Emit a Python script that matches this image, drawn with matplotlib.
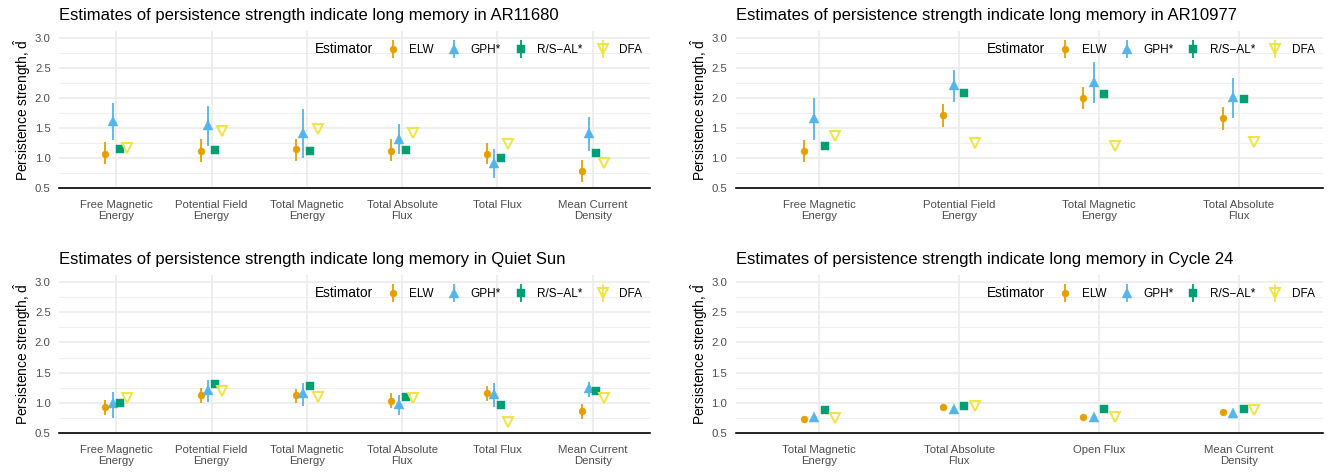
import numpy as np
import matplotlib.pyplot as plt
from matplotlib.lines import Line2D
from matplotlib.ticker import MultipleLocator

plt.rcParams['font.family'] = ['Liberation Sans', 'DejaVu Sans']
plt.rcParams['mathtext.fontset'] = 'custom'
plt.rcParams['mathtext.rm'] = 'Liberation Sans'
plt.rcParams['mathtext.it'] = 'Liberation Sans'

# Estimators, in plotting order (ELW, GPH*, R/S-AL*, DFA)
estimators = ['ELW', 'GPH*', 'R/S\u2212AL*', 'DFA']
est_colors = ['#E69F00', '#56B4E9', '#009E73', '#F0E442']

nan = np.nan

# --- AR11680 ---
ar11680_cats = ['Free Magnetic\nEnergy', 'Potential Field\nEnergy', 'Total Magnetic\nEnergy',
                'Total Absolute\nFlux', 'Total Flux', 'Mean Current\nDensity']
ar11680_est = [[1.08, 1.13, 1.15, 1.13, 1.08, 0.79],
               [1.63, 1.55, 1.43, 1.33, 0.92, 1.43],
               [1.15, 1.14, 1.12, 1.14, 1.00, 1.09],
               [1.17, 1.46, 1.49, 1.42, 1.24, 0.93]]
ar11680_lo = [[0.90, 0.94, 0.96, 0.95, 0.90, 0.61],
              [1.31, 1.21, 1.01, 1.07, 0.67, 1.13],
              [nan] * 6, [nan] * 6]
ar11680_hi = [[1.27, 1.32, 1.33, 1.32, 1.26, 0.97],
              [1.93, 1.87, 1.82, 1.58, 1.16, 1.69],
              [nan] * 6, [nan] * 6]

# --- AR10977 ---
ar10977_cats = ['Free Magnetic\nEnergy', 'Potential Field\nEnergy', 'Total Magnetic\nEnergy',
                'Total Absolute\nFlux']
ar10977_est = [[1.13, 1.72, 2.00, 1.67],
               [1.68, 2.22, 2.28, 2.03],
               [1.21, 2.09, 2.07, 1.99],
               [1.38, 1.26, 1.20, 1.27]]
ar10977_lo = [[0.94, 1.53, 1.82, 1.48],
              [1.31, 1.94, 1.93, 1.68],
              [nan] * 4, [nan] * 4]
ar10977_hi = [[1.31, 1.91, 2.19, 1.86],
              [2.01, 2.48, 2.61, 2.34],
              [nan] * 4, [nan] * 4]

# --- Quiet Sun ---
quiet_cats = ar11680_cats
quiet_est = [[0.92, 1.12, 1.12, 1.03, 1.16, 0.86],
             [0.99, 1.21, 1.16, 0.98, 1.15, 1.25],
             [1.00, 1.31, 1.28, 1.09, 0.96, 1.20],
             [1.08, 1.20, 1.10, 1.08, 0.67, 1.08]]
quiet_lo = [[0.79, 0.99, 0.99, 0.91, 1.03, 0.73],
            [0.74, 1.01, 0.94, 0.79, 0.93, 1.10],
            [nan] * 6, [nan] * 6]
quiet_hi = [[1.04, 1.24, 1.23, 1.16, 1.28, 0.98],
            [1.17, 1.37, 1.32, 1.12, 1.33, 1.35],
            [nan] * 6, [nan] * 6]

# --- Cycle 24 ---
cycle24_cats = ['Total Magnetic\nEnergy', 'Total Absolute\nFlux', 'Open Flux', 'Mean Current\nDensity']
cycle24_est = [[0.73, 0.92, 0.76, 0.84],
               [0.76, 0.89, 0.76, 0.83],
               [0.88, 0.95, 0.89, 0.89],
               [0.75, 0.94, 0.76, 0.88]]
cycle24_lo = [[nan] * 4] * 4
cycle24_hi = [[nan] * 4] * 4

panels = [
    ('AR11680', ar11680_cats, ar11680_est, ar11680_lo, ar11680_hi),
    ('AR10977', ar10977_cats, ar10977_est, ar10977_lo, ar10977_hi),
    ('Quiet Sun', quiet_cats, quiet_est, quiet_lo, quiet_hi),
    ('Cycle 24', cycle24_cats, cycle24_est, cycle24_lo, cycle24_hi),
]

W, H = 1332, 474
# panel boxes in pixels: left, top (value 3.125), right, bottom (value 0.5)
boxes = [(59, 30.8, 650, 188.3), (735.5, 30.8, 1322.5, 188.3),
         (59, 274.8, 650, 432.7), (735.5, 274.8, 1322.5, 432.7)]

offsets = [-0.1125, -0.0375, 0.0375, 0.1125]
markers = ['o', '^', 's', 'v']
msizes = [5.0, 6.6, 5.2, 7.2]


def marker_style(i):
    if markers[i] == 'v':
        return dict(marker='v', markersize=msizes[i], markerfacecolor='none',
                    markeredgecolor=est_colors[i], markeredgewidth=1.4)
    return dict(marker=markers[i], markersize=msizes[i], markerfacecolor=est_colors[i],
                markeredgecolor=est_colors[i], markeredgewidth=0.3)


fig = plt.figure(figsize=(W / 100, H / 100), dpi=100)

for (name, cats, est, lo, hi), (l, t, r, b) in zip(panels, boxes):
    ax = fig.add_axes([l / W, 1 - b / H, (r - l) / W, (b - t) / H])
    x = np.arange(len(cats))
    for i in range(4):
        xi = x + offsets[i]
        ax.vlines(xi, lo[i], hi[i], color=est_colors[i], lw=1.3, zorder=3)
        ax.plot(xi, est[i], linestyle='none', zorder=4, **marker_style(i))

    ax.set_xlim(-0.6, len(cats) - 0.4)
    ax.set_ylim(0.5, 3.125)
    ax.set_xticks(x)
    ax.set_xticklabels(cats, fontsize=8.2, color='#4D4D4D', linespacing=1.15)
    ax.yaxis.set_minor_locator(MultipleLocator(0.25))
    ax.set_yticks([0.5, 1.0, 1.5, 2.0, 2.5, 3.0])
    ax.set_yticklabels(['0.5', '1.0', '1.5', '2.0', '2.5', '3.0'], fontsize=8.2, color='#4D4D4D')
    ax.tick_params(axis='both', which='both', length=0)
    ax.tick_params(axis='x', pad=8.5)
    ax.tick_params(axis='y', pad=6)
    ax.grid(True, which='major', color='#EBEBEB', lw=1.2)
    ax.grid(True, which='minor', axis='y', color='#EBEBEB', lw=0.6)
    ax.set_axisbelow(True)
    for side in ['top', 'right', 'left']:
        ax.spines[side].set_visible(False)
    ax.spines['bottom'].set_color('black')
    ax.spines['bottom'].set_linewidth(1.2)

    ax.set_title('Estimates of persistence strength indicate long memory in ' + name,
                 loc='left', fontsize=12, pad=8)
    ax.set_ylabel(r'Persistence strength, $\hat{d}$', fontsize=9.9, labelpad=1)

    # horizontal legend with the title on its left
    handles = [Line2D([], [], linestyle='none')]
    labels = ['Estimator']
    for i in range(4):
        stem = Line2D([], [], linestyle='none', marker='|', markersize=13,
                      markeredgewidth=1.3, color=est_colors[i])
        pt = Line2D([], [], linestyle='none', **marker_style(i))
        handles.append((stem, pt))
        labels.append(estimators[i])
    leg = ax.legend(handles, labels, ncol=5, loc='center right',
                    bbox_to_anchor=(0.987, 0.884), frameon=False, borderpad=0,
                    borderaxespad=0, handlelength=1.0, handletextpad=0.9,
                    columnspacing=1.2, fontsize=8.5)
    leg.get_texts()[0].set_fontsize(9.9)

fig.savefig('out.png', dpi=100)
